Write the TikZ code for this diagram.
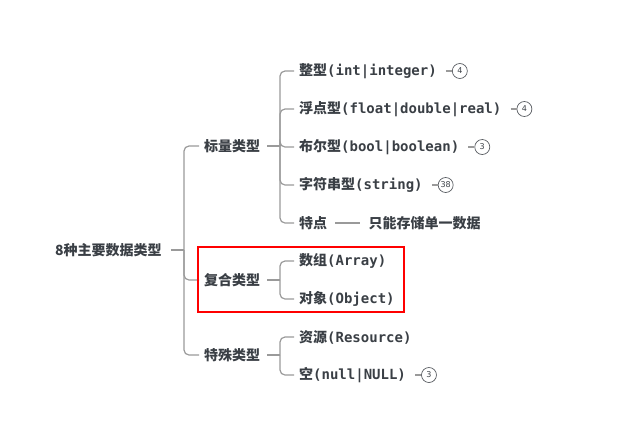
\documentclass[tikz,border=0pt]{standalone}
\usepackage{fontspec}
\usetikzlibrary{positioning}
\newfontfamily\cjk{Noto Sans CJK SC}
\newfontfamily\mono{DejaVu Sans Mono}
\newfontfamily\badgefont{DejaVu Sans}
\newcommand\en[1]{{\mono #1}}
\definecolor{txt}{HTML}{3A3F45}
\definecolor{ln}{HTML}{9A9A9A}

\begin{document}
\begin{tikzpicture}[x=1bp,y=-1bp,
    item/.style={anchor=west,inner xsep=5bp,inner ysep=2bp,text=txt,
      font=\cjk\bfseries\fontsize{14bp}{16bp}\selectfont},
    conn/.style={draw=ln,line width=1.2bp,rounded corners=5bp},
    badge/.style={circle,draw=txt!85,line width=0.7bp,minimum size=15bp,
      inner sep=0pt,text=txt,font=\badgefont\fontsize{8bp}{8bp}\selectfont}]
  \useasboundingbox (0,0) rectangle (624,431);

  % root and first level
  \node[item] (root) at (50,250) {8种主要数据类型};
  \node[item] (scalar)  at (199,146) {标量类型};
  \node[item] (compound) at (199,280) {复合类型};
  \node[item] (special) at (199,355) {特殊类型};
  \coordinate (s0) at (184,250);
  \draw[conn,shorten <=4bp] (root.east) -- (s0);
  \foreach \n in {scalar,compound,special}
    \draw[conn] (s0) |- (\n.west);

  % scalar types
  \node[item] (int)   at (294,71)  {整型\en{(int|integer)}};
  \node[item] (float) at (294,109) {浮点型\en{(float|double|real)}};
  \node[item] (bool)  at (294,147) {布尔型\en{(bool|boolean)}};
  \node[item] (str)   at (294,185) {字符串型\en{(string)}};
  \node[item] (feat)  at (294,223) {特点};
  \node[item,right=31bp of feat] (featd) {只能存储单一数据};
  \coordinate (s1) at (280,146);
  \draw[conn,shorten <=2bp] (scalar.east) -- (s1);
  \foreach \n in {int,float,bool,str,feat}
    \draw[conn] (s1) |- (\n.west);
  \draw[conn,shorten <=3bp,shorten >=3bp] (feat.east) -- (featd.west);

  % compound types
  \node[item] (arr) at (294,261) {数组\en{(Array)}};
  \node[item] (obj) at (294,299) {对象\en{(Object)}};
  \coordinate (s2) at (280,280);
  \draw[conn,shorten <=2bp] (compound.east) -- (s2);
  \foreach \n in {arr,obj}
    \draw[conn] (s2) |- (\n.west);

  % special types
  \node[item] (res)  at (294,337) {资源\en{(Resource)}};
  \node[item] (null) at (294,375) {空\en{(null|NULL)}};
  \coordinate (s3) at (280,355);
  \draw[conn,shorten <=2bp] (special.east) -- (s3);
  \foreach \n in {res,null}
    \draw[conn] (s3) |- (\n.west);

  % counters
  \node[badge,right=10bp of int]   (bint)   {4};
  \node[badge,right=10bp of float] (bfloat) {4};
  \node[badge,right=10bp of bool]  (bbool)  {3};
  \node[badge,right=10bp of str]   (bstr)   {38};
  \node[badge,right=10bp of null]  (bnull)  {3};
  \foreach \a/\b in {int/bint,float/bfloat,bool/bbool,str/bstr,null/bnull}
    \draw[conn,shorten <=4bp] (\a.east) -- (\b.west);

  % highlight
  \draw[red,line width=1.6bp] (198,247) rectangle (404,312);
\end{tikzpicture}
\end{document}
